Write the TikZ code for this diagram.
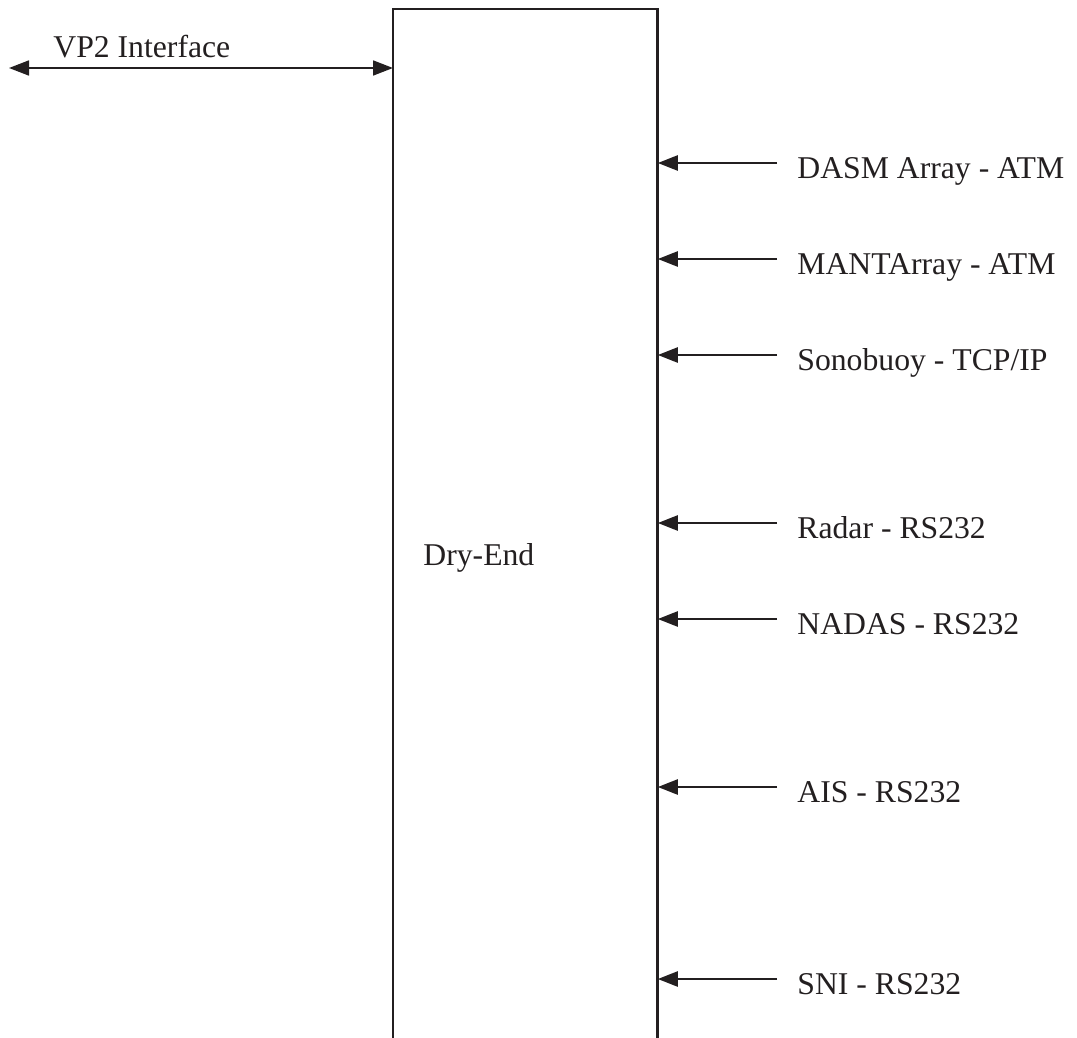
\documentclass[tikz,border=0pt]{standalone}
\usepackage{fontspec}
\setmainfont{Liberation Serif}
\usepackage{tikz}
\usepackage{xcolor}
\usetikzlibrary{arrows.meta,positioning,calc}
\definecolor{ink}{HTML}{231F20}
\tikzset{
  boxline/.style={draw=ink,line width=1.4pt},
  inarr/.style={-{Triangle[length=10pt,width=7.5pt]},line width=1.25pt,draw=ink},
  botharr/.style={{Triangle[length=10pt,width=7.5pt]}-{Triangle[length=10pt,width=7.5pt]},
                  line width=0.9pt,draw=ink},
  portlbl/.style={anchor=base west,inner sep=0pt,text=ink,
                  font=\fontsize{15.85pt}{19pt}\selectfont}
}
\begin{document}
\begin{tikzpicture}[x=0.5pt,y=-0.5pt]
    \useasboundingbox (0,0) rectangle (1077,1038);
    % open-bottomed block
    \node[minimum width=132pt,minimum height=514.5pt,inner sep=0pt,
          anchor=north west] (dryend) at (393,9) {};
    \draw[boxline] (dryend.south west) -- (dryend.north west)
      -- (dryend.north east) -- (dryend.south east);
    \node[portlbl] (dryendlbl) at (423,565) {Dry-End};
    % VP2 side
    \coordinate (vpend) at (9,68);
    \node[portlbl] (vp) at (53,58) {VP2 Interface};
    \draw[botharr] (vpend) -- (vpend -| dryend.west);
    % inputs on the right
    \coordinate (dasmend) at (777,163);
    \coordinate (mantend) at (777,259);
    \coordinate (sonoend) at (777,355);
    \coordinate (radarend) at (777,523);
    \coordinate (nadasend) at (777,619);
    \coordinate (aisend) at (777,787);
    \coordinate (sniend) at (777,979);
    \node[portlbl] (dasm) at ([shift={(20,15.5)}]dasmend) {DASM Array - ATM};
    \node[portlbl] (mant) at ([shift={(20,15.5)}]mantend) {MANTArray - ATM};
    \node[portlbl] (sono) at ([shift={(20,15.5)}]sonoend) {Sonobuoy - TCP/IP};
    \node[portlbl] (radar) at ([shift={(20,15.5)}]radarend) {Radar - RS232};
    \node[portlbl] (nadas) at ([shift={(20,15.5)}]nadasend) {NADAS - RS232};
    \node[portlbl] (ais) at ([shift={(20,15.5)}]aisend) {AIS - RS232};
    \node[portlbl] (sni) at ([shift={(20,15.5)}]sniend) {SNI - RS232};
    \draw[inarr] (dasmend) -- (dasmend -| dryend.east);
    \draw[inarr] (mantend) -- (mantend -| dryend.east);
    \draw[inarr] (sonoend) -- (sonoend -| dryend.east);
    \draw[inarr] (radarend) -- (radarend -| dryend.east);
    \draw[inarr] (nadasend) -- (nadasend -| dryend.east);
    \draw[inarr] (aisend) -- (aisend -| dryend.east);
    \draw[inarr] (sniend) -- (sniend -| dryend.east);
  \end{tikzpicture}
\end{document}
